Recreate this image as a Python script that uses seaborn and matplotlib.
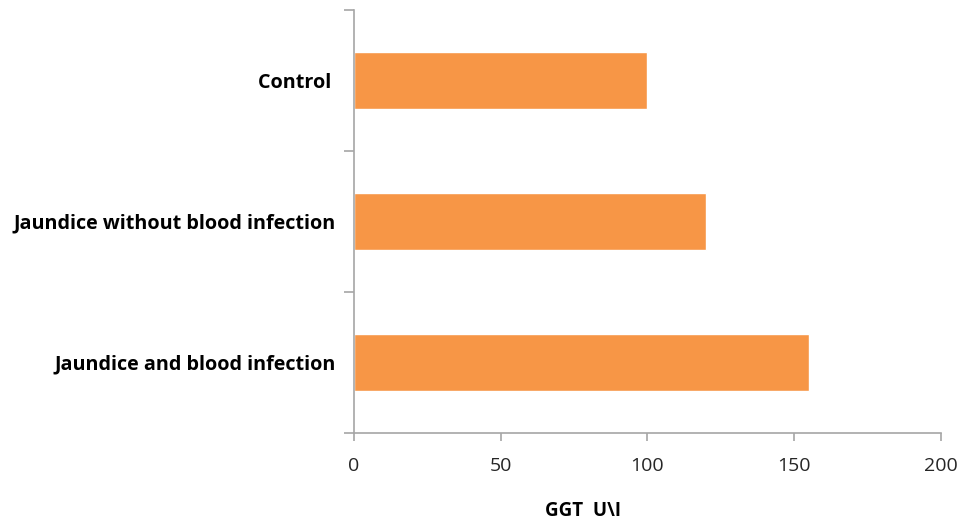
import seaborn as sns
import matplotlib.pyplot as plt
import pandas as pd
import matplotlib
matplotlib.use('Agg')

groups = ["Control ", "Jaundice without blood infection", "Jaundice and blood infection"]
ggt = [100, 120, 155]
xticks = [0, 50, 100, 150, 200]

df = pd.DataFrame({"group": groups, "ggt": ggt})

sns.set_style("white")
plt.rcParams['font.family'] = ['Open Sans', 'DejaVu Sans']

fig = plt.figure(figsize=(9.64, 5.31), dpi=100)
ax = fig.add_axes([0.3672, 0.1846, 0.6089, 0.7966])

sns.barplot(data=df, x="ggt", y="group", orient="h", color="#F79646",
            saturation=1, width=0.4, ax=ax)

ax.set_xlim(0, 200)
ax.set_ylim(2.5, -0.5)
ax.set_xticks(xticks)
ax.set_xticklabels([str(t) for t in xticks], fontsize=14, color='#262626')

# labels sit at the bar centres, tick marks at the category edges
ax.set_yticks(range(len(groups)))
ax.set_yticklabels(groups, fontsize=14.2, fontweight='bold', color='black')
ax.set_yticks([-0.5, 0.5, 1.5, 2.5], minor=True)
ax.tick_params(axis='y', which='major', length=0, pad=13)
ax.tick_params(axis='y', which='minor', length=7, width=1.2, color='#A6A6A6', left=True)
ax.tick_params(axis='x', length=6, width=1.2, color='#A6A6A6', pad=11, bottom=True)

ax.set_ylabel("")
ax.set_xlabel("GGT  U\\I", fontsize=13.5, fontweight='bold', color='black')
ax.xaxis.label.set_verticalalignment('center')
ax.xaxis.set_label_coords(0.39, -0.185)

for side in ["top", "right"]:
    ax.spines[side].set_visible(False)
for side in ["left", "bottom"]:
    ax.spines[side].set_color('#A6A6A6')
    ax.spines[side].set_linewidth(1.2)

fig.savefig("out.png", dpi=100)
